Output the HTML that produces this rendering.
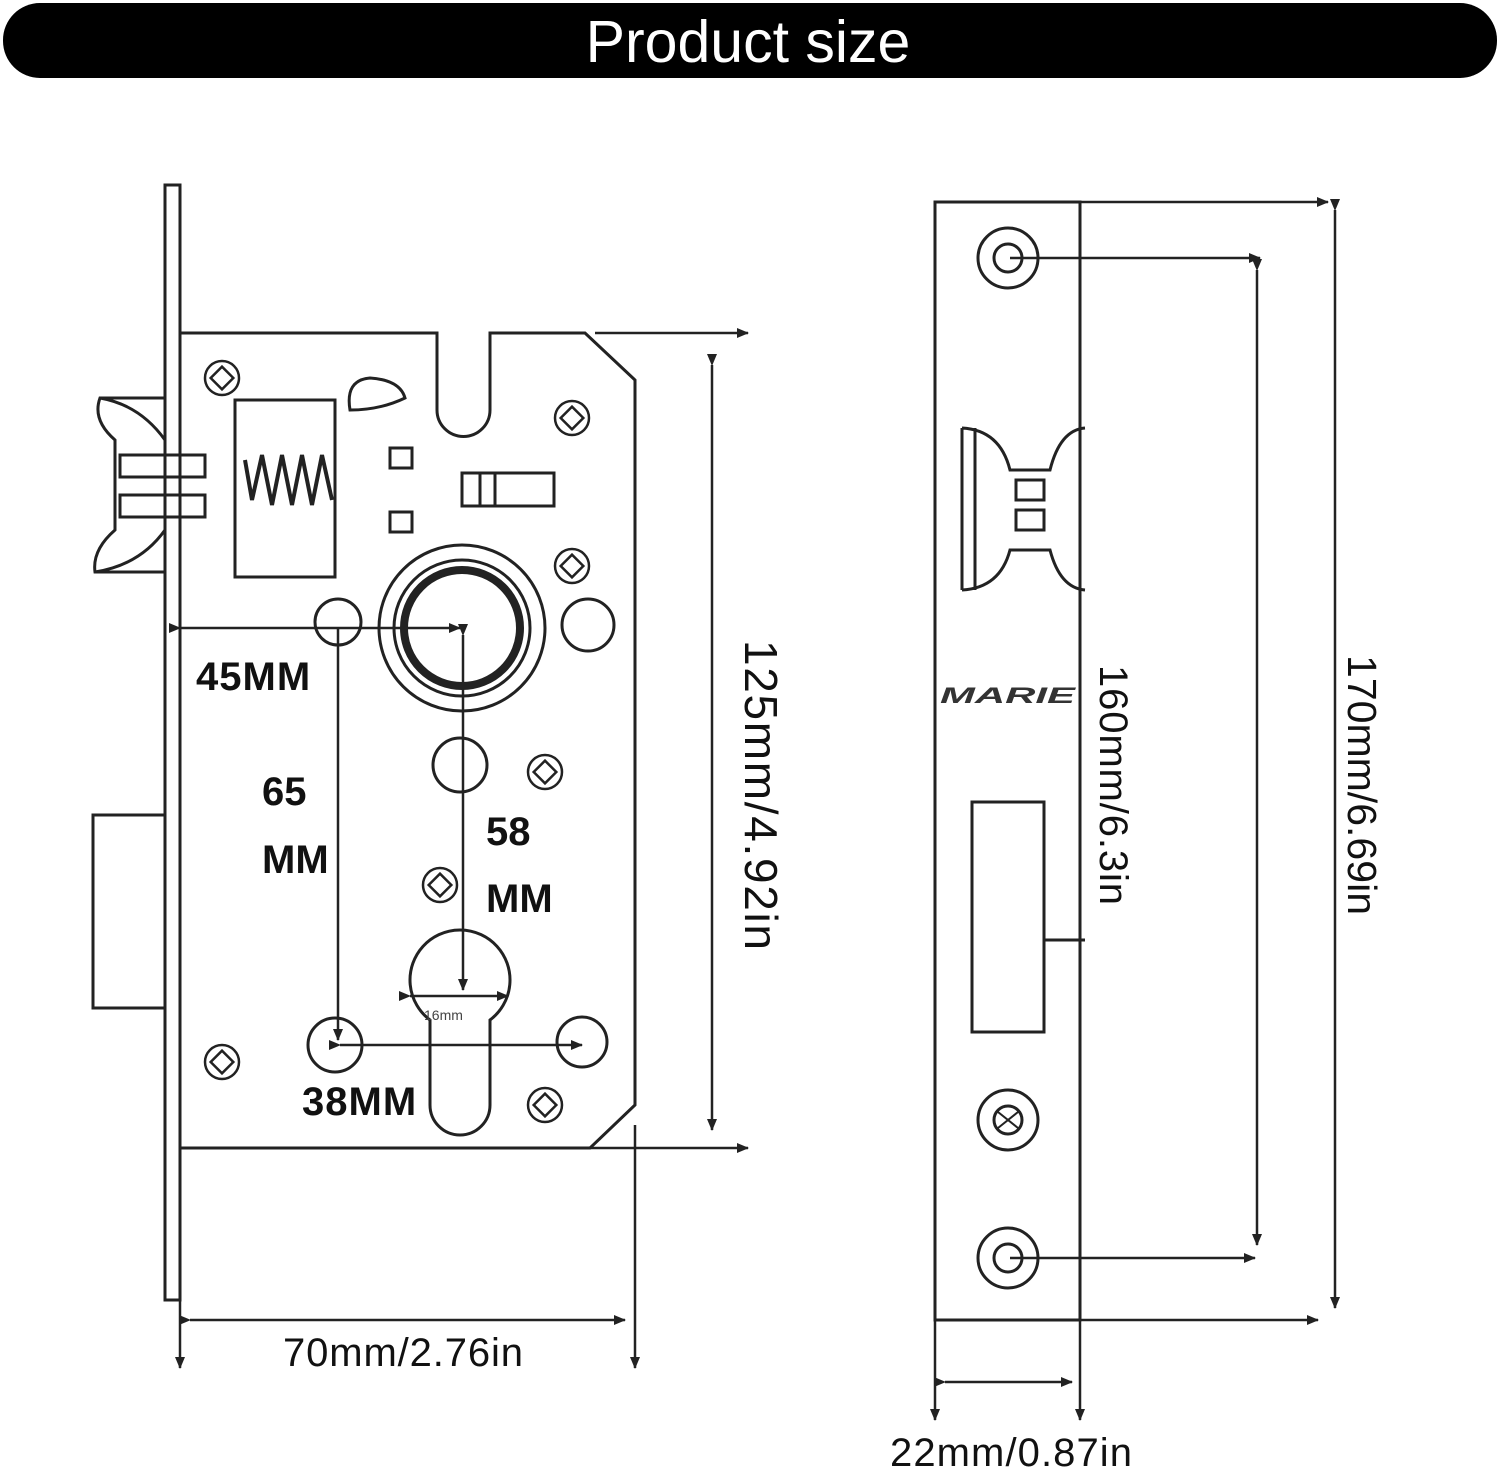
<!DOCTYPE html>
<html><head><meta charset="utf-8"><style>
html,body{margin:0;padding:0;background:#fff;}
svg{display:block}
</style></head><body>
<svg width="1500" height="1475" viewBox="0 0 1500 1475" xmlns="http://www.w3.org/2000/svg">
<defs>
<marker id="a" markerWidth="12" markerHeight="10" refX="11" refY="5" orient="auto" markerUnits="userSpaceOnUse"><path d="M0,0 L12,5 L0,10 Z" fill="#222"/></marker>
</defs>
<rect x="3" y="3" width="1494" height="75" rx="37" fill="#000"/>
<text x="748" y="62" text-anchor="middle" font-family="Liberation Sans, sans-serif" font-size="59" fill="#fff">Product size</text>

<g fill="none" stroke="#222" stroke-width="3">
<rect x="165" y="185" width="15" height="1115"/>
<path d="M180,333 L437,333 L437,410 A26,26 0 0 0 490,410 L490,333 L585,333 L635,380 L635,1105 L590,1148 L180,1148"/>
<path d="M165,398 L100,398 Q92,420 115,440 L115,530 Q92,550 95,572 L165,572"/>
<path d="M100,398 Q140,405 165,440 M95,572 Q140,565 165,530"/>
<rect x="120" y="455" width="85" height="22"/>
<rect x="120" y="495" width="85" height="22"/>
<rect x="235" y="400" width="100" height="177"/>
<path d="M245,460 L252,500 L262,455 L272,505 L282,455 L292,505 L302,455 L312,505 L322,455 L332,500" stroke-width="4"/>
<rect x="93" y="815" width="72" height="193"/>
<rect x="390" y="448" width="22" height="20"/>
<rect x="390" y="512" width="22" height="20"/>
<rect x="462" y="473" width="92" height="33"/>
<line x1="480" y1="473" x2="480" y2="506"/><line x1="495" y1="473" x2="495" y2="506"/>
<path d="M350,410 Q345,380 370,378 Q400,380 405,398 Q380,410 350,410 Z"/>
<g stroke-width="2.5">
<circle cx="222" cy="378" r="17"/><rect x="214" y="370" width="16" height="16" transform="rotate(45 222 378)"/>
<circle cx="572" cy="418" r="17"/><rect x="564" y="410" width="16" height="16" transform="rotate(45 572 418)"/>
<circle cx="572" cy="566" r="17"/><rect x="564" y="558" width="16" height="16" transform="rotate(45 572 566)"/>
<circle cx="545" cy="772" r="17"/><rect x="537" y="764" width="16" height="16" transform="rotate(45 545 772)"/>
<circle cx="440" cy="885" r="17"/><rect x="432" y="877" width="16" height="16" transform="rotate(45 440 885)"/>
<circle cx="222" cy="1062" r="17"/><rect x="214" y="1054" width="16" height="16" transform="rotate(45 222 1062)"/>
<circle cx="545" cy="1105" r="17"/><rect x="537" y="1097" width="16" height="16" transform="rotate(45 545 1105)"/>
</g>
<circle cx="462" cy="628" r="83"/>
<circle cx="462" cy="628" r="68"/>
<circle cx="462" cy="628" r="58" stroke-width="8"/>
<circle cx="338" cy="622" r="23"/>
<circle cx="588" cy="625" r="26"/>
<circle cx="460" cy="765" r="27"/>
<circle cx="335" cy="1045" r="27"/>
<circle cx="582" cy="1042" r="25"/>
<path d="M430,1020 A50,50 0 1 1 490,1020 L490,1105 A30,30 0 0 1 430,1105 Z"/>
</g>
<g stroke="#222" stroke-width="2.5" fill="none">
<line x1="180" y1="628" x2="460" y2="628" marker-start="url(#a)" marker-end="url(#a)"/>
<line x1="338" y1="628" x2="338" y2="1040" marker-end="url(#a)"/>
<line x1="463" y1="635" x2="463" y2="990" marker-start="url(#a)" marker-end="url(#a)"/>
<line x1="340" y1="1045" x2="582" y2="1045" marker-start="url(#a)" marker-end="url(#a)"/>
<line x1="410" y1="996" x2="508" y2="996" marker-start="url(#a)" marker-end="url(#a)"/>
<line x1="595" y1="333" x2="748" y2="333" marker-end="url(#a)"/>
<line x1="590" y1="1148" x2="748" y2="1148" marker-end="url(#a)"/>
<line x1="180" y1="1148" x2="590" y2="1148"/>
<line x1="712" y1="365" x2="712" y2="1130" marker-start="url(#a)" marker-end="url(#a)"/>
<line x1="180" y1="1300" x2="180" y2="1368" marker-end="url(#a)"/>
<line x1="635" y1="1125" x2="635" y2="1368" marker-end="url(#a)"/>
<line x1="190" y1="1320" x2="625" y2="1320" marker-start="url(#a)" marker-end="url(#a)"/>
</g>
<g font-family="Liberation Sans, sans-serif" font-weight="bold" fill="#111" font-size="40">
<text x="196" y="690" letter-spacing="1">45MM</text>
<text x="262" y="805">65</text><text x="262" y="873">MM</text>
<text x="486" y="845">58</text><text x="486" y="912">MM</text>
<text x="302" y="1115" letter-spacing="1">38MM</text>
</g>
<text x="424" y="1020" font-family="Liberation Sans, sans-serif" font-size="14" fill="#444">16mm</text>
<text x="283" y="1366" font-family="Liberation Sans, sans-serif" font-size="40" fill="#111" textLength="240">70mm/2.76in</text>
<text transform="translate(745,640) rotate(90)" font-family="Liberation Sans, sans-serif" font-size="46" fill="#111" textLength="310">125mm/4.92in</text>

<g fill="none" stroke="#222" stroke-width="3">
<rect x="935" y="202" width="145" height="1118"/>
<circle cx="1008" cy="258" r="30"/><circle cx="1008" cy="258" r="14"/>
<circle cx="1008" cy="1258" r="30"/><circle cx="1008" cy="1258" r="14"/>
<circle cx="1008" cy="1120" r="30"/><circle cx="1008" cy="1120" r="14"/>
<path d="M998,1112 L1018,1128 M1018,1112 L998,1128" stroke-width="2"/>
<path d="M962,428 L962,590 M962,428 Q1000,430 1010,470 L1050,470 Q1060,430 1085,428 M962,590 Q1000,588 1010,550 L1050,550 Q1060,588 1085,590"/>
<line x1="975" y1="428" x2="975" y2="590"/>
<rect x="1016" y="480" width="28" height="20"/><rect x="1016" y="510" width="28" height="20"/>
<rect x="972" y="802" width="72" height="230"/>
<line x1="1044" y1="940" x2="1085" y2="940"/>
</g>
<text x="940" y="703" font-family="Liberation Sans, sans-serif" font-weight="bold" font-style="italic" font-size="22" fill="#333" textLength="135" lengthAdjust="spacingAndGlyphs">MARIE</text>
<g stroke="#222" stroke-width="2.5" fill="none">
<line x1="1080" y1="202" x2="1328" y2="202" marker-end="url(#a)"/>
<line x1="1080" y1="1320" x2="1318" y2="1320" marker-end="url(#a)"/>
<line x1="1335" y1="210" x2="1335" y2="1308" marker-start="url(#a)" marker-end="url(#a)"/>
<line x1="1010" y1="258" x2="1260" y2="258" marker-end="url(#a)"/>
<line x1="1010" y1="1258" x2="1255" y2="1258" marker-end="url(#a)"/>
<line x1="1257" y1="270" x2="1257" y2="1245" marker-start="url(#a)" marker-end="url(#a)"/>
<line x1="935" y1="1320" x2="935" y2="1420" marker-end="url(#a)"/>
<line x1="1080" y1="1320" x2="1080" y2="1420" marker-end="url(#a)"/>
<line x1="945" y1="1382" x2="1072" y2="1382" marker-start="url(#a)" marker-end="url(#a)"/>
</g>
<text x="890" y="1466" font-family="Liberation Sans, sans-serif" font-size="40" fill="#111" textLength="242">22mm/0.87in</text>
<text transform="translate(1100,665) rotate(90)" font-family="Liberation Sans, sans-serif" font-size="40" fill="#111" textLength="240">160mm/6.3in</text>
<text transform="translate(1348,655) rotate(90)" font-family="Liberation Sans, sans-serif" font-size="41" fill="#111" textLength="260">170mm/6.69in</text>
</svg>
</body></html>
